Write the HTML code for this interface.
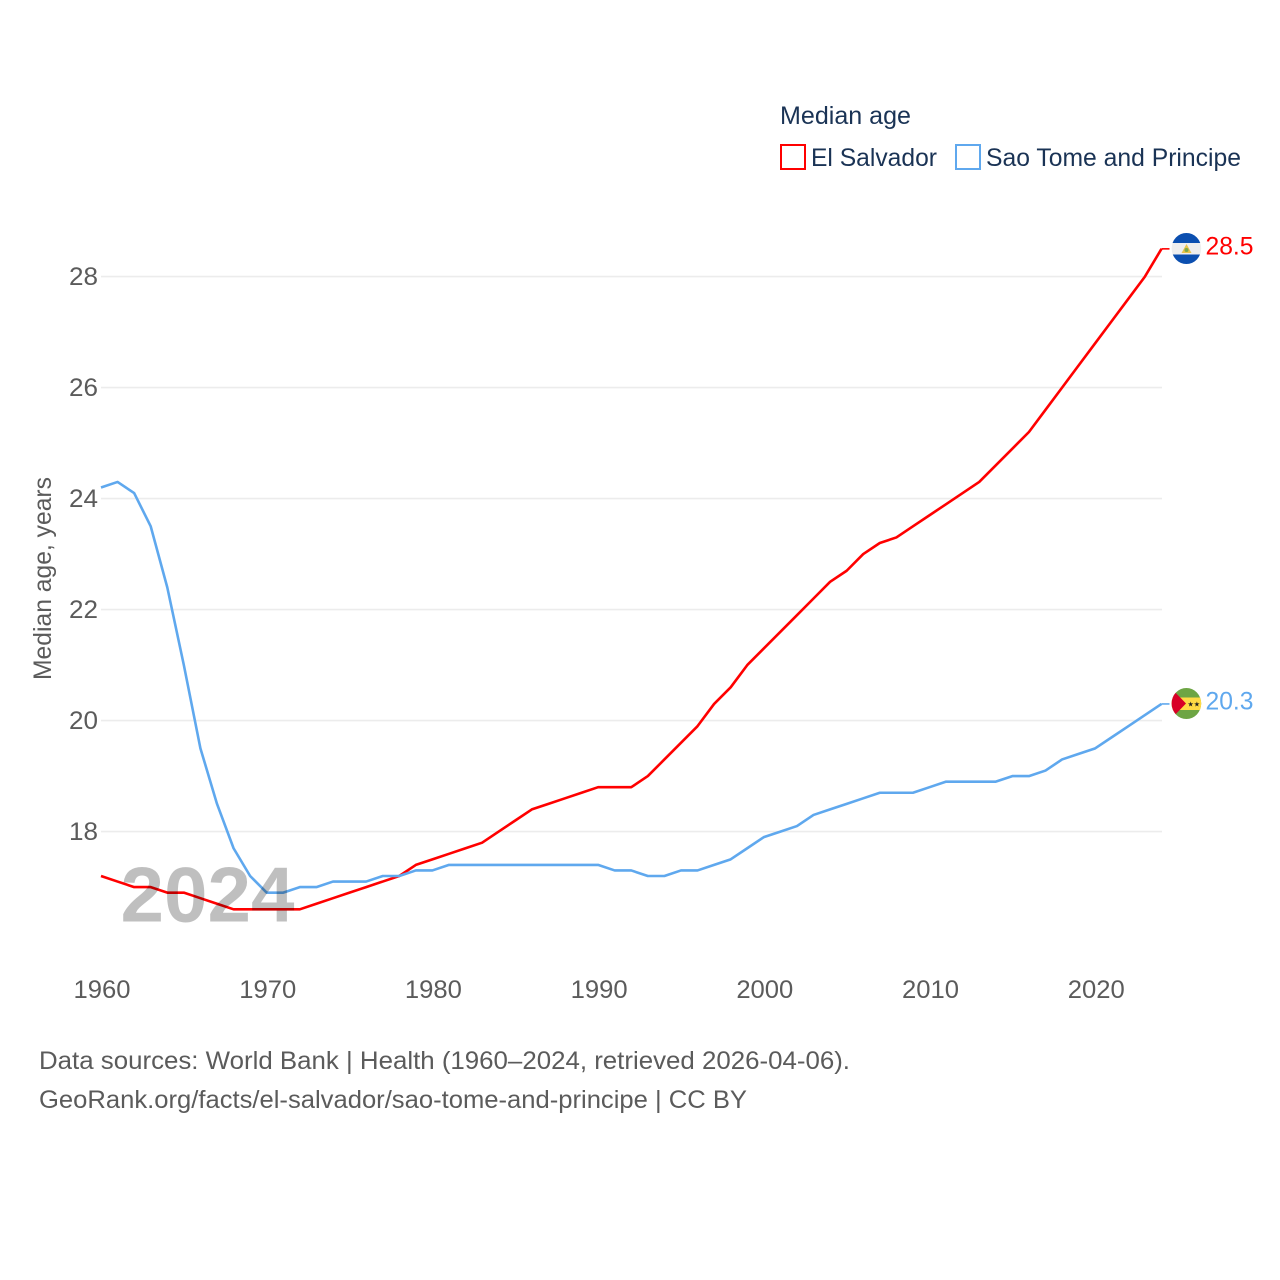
<!DOCTYPE html>
<html lang="en">
<head>
<meta charset="utf-8">
<title>Median age: El Salvador vs Sao Tome and Principe</title>
<style>
html,body{margin:0;padding:0;background:#fff;width:1280px;height:1280px;overflow:hidden}
svg{display:block}
text{font-family:"Liberation Sans",sans-serif}
</style>
</head>
<body>
<svg id="chart" width="1280" height="1280" viewBox="0 0 1280 1280" xmlns="http://www.w3.org/2000/svg">
  <defs>
    <clipPath id="clip-sv"><ellipse cx="1186.4" cy="248.5" rx="14.8" ry="15.5"/></clipPath>
    <clipPath id="clip-st"><ellipse cx="1186.4" cy="703.5" rx="14.8" ry="15.5"/></clipPath>
  </defs>
  <rect width="1280" height="1280" fill="#fff"/>

  <g id="legend">
    <text x="780" y="124" font-size="25" fill="#1a3355" textLength="131" lengthAdjust="spacingAndGlyphs">Median age</text>
    <g>
      <rect x="781" y="145" width="24" height="24" fill="#fff" stroke="#ff0000" stroke-width="2"/>
      <text x="811" y="166" font-size="25" fill="#1a3355" textLength="126" lengthAdjust="spacingAndGlyphs">El Salvador</text>
    </g>
    <g>
      <rect x="956" y="145" width="24" height="24" fill="#fff" stroke="#5fa8ee" stroke-width="2"/>
      <text x="986" y="166" font-size="25" fill="#1a3355" textLength="255" lengthAdjust="spacingAndGlyphs">Sao Tome and Principe</text>
    </g>
  </g>

  <g id="grid"></g>
  <g id="y-ticks"></g>
  <g id="x-ticks"></g>
  <text transform="translate(51,680) rotate(-90)" font-size="25" fill="#5b5b5b" textLength="203" lengthAdjust="spacingAndGlyphs">Median age, years</text>

  <g id="series"></g>

  <text x="120.5" y="921.5" font-size="78" font-weight="700" fill="#000" fill-opacity="0.25" textLength="174" lengthAdjust="spacingAndGlyphs">2024</text>

  <g clip-path="url(#clip-sv)">
    <rect x="1171" y="233" width="31" height="31" fill="#eeeeee"/>
    <rect x="1171" y="233" width="31" height="10" fill="#0b4fb0"/>
    <rect x="1171" y="254.5" width="31" height="10" fill="#0b4fb0"/>
    <path d="M1186.5 244 l5 9 h-10 z" fill="#e8c44a"/>
    <circle cx="1186.5" cy="250" r="2" fill="#7da84a"/>
  </g>
  <g clip-path="url(#clip-st)">
    <rect x="1171" y="688" width="31" height="31" fill="#6da544"/>
    <rect x="1171" y="697.5" width="31" height="12.5" fill="#ffda44"/>
    <path d="M1171 688 L1186 703.5 L1171 719 Z" fill="#d80027"/>
    <text x="1187.5" y="706.5" font-size="7" fill="#222">★★</text>
  </g>

  <g id="end-labels"></g>

  <text x="39" y="1069" font-size="25" fill="#5b5b5b" textLength="811" lengthAdjust="spacingAndGlyphs">Data sources: World Bank | Health (1960–2024, retrieved 2026-04-06).</text>
  <text x="39" y="1108" font-size="25" fill="#5b5b5b" textLength="708" lengthAdjust="spacingAndGlyphs">GeoRank.org/facts/el-salvador/sao-tome-and-principe | CC BY</text>
</svg>
<script>
const years = [1960,1961,1962,1963,1964,1965,1966,1967,1968,1969,1970,1971,1972,1973,1974,1975,1976,1977,1978,1979,1980,1981,1982,1983,1984,1985,1986,1987,1988,1989,1990,1991,1992,1993,1994,1995,1996,1997,1998,1999,2000,2001,2002,2003,2004,2005,2006,2007,2008,2009,2010,2011,2012,2013,2014,2015,2016,2017,2018,2019,2020,2021,2022,2023,2024];
const elSalvador = [17.2,17.1,17.0,17.0,16.9,16.9,16.8,16.7,16.6,16.6,16.6,16.6,16.6,16.7,16.8,16.9,17.0,17.1,17.2,17.4,17.5,17.6,17.7,17.8,18.0,18.2,18.4,18.5,18.6,18.7,18.8,18.8,18.8,19.0,19.3,19.6,19.9,20.3,20.6,21.0,21.3,21.6,21.9,22.2,22.5,22.7,23.0,23.2,23.3,23.5,23.7,23.9,24.1,24.3,24.6,24.9,25.2,25.6,26.0,26.4,26.8,27.2,27.6,28.0,28.5];
const saoTome = [24.2,24.3,24.1,23.5,22.4,21.0,19.5,18.5,17.7,17.2,16.9,16.9,17.0,17.0,17.1,17.1,17.1,17.2,17.2,17.3,17.3,17.4,17.4,17.4,17.4,17.4,17.4,17.4,17.4,17.4,17.4,17.3,17.3,17.2,17.2,17.3,17.3,17.4,17.5,17.7,17.9,18.0,18.1,18.3,18.4,18.5,18.6,18.7,18.7,18.7,18.8,18.9,18.9,18.9,18.9,19.0,19.0,19.1,19.3,19.4,19.5,19.7,19.9,20.1,20.3];
const yTickLabels = [18,20,22,24,26,28];
const xTickLabels = [1960,1970,1980,1990,2000,2010,2020];

const NS = 'http://www.w3.org/2000/svg';
const xScale = function (year) { return 101 + (year - 1960) * (1161.5 - 101) / 64; };
const yScale = function (value) { return 831.6 - (value - 18) * 55.5; };
function svgEl(tag, attrs, parent) {
  const el = document.createElementNS(NS, tag);
  Object.keys(attrs).forEach(function (k) { el.setAttribute(k, attrs[k]); });
  parent.appendChild(el);
  return el;
}

const gridGroup = document.getElementById('grid');
const yTickGroup = document.getElementById('y-ticks');
yTickLabels.forEach(function (tick) {
  const line = svgEl('line', {x1: 101, x2: 1162, y1: yScale(tick), y2: yScale(tick), stroke: '#ececec', 'stroke-width': 1.6}, gridGroup);
  
  
  const label = svgEl('text', {x: 98, y: yScale(tick) + 8.4, 'text-anchor': 'end', 'font-size': 25, fill: '#5b5b5b', textLength: 29, lengthAdjust: 'spacingAndGlyphs'}, yTickGroup);
  
  
  label.textContent = tick;
});

const xTickGroup = document.getElementById('x-ticks');
xTickLabels.forEach(function (tick) {
  const label = svgEl('text', {x: xScale(tick) + 1, y: 998, 'text-anchor': 'middle', 'font-size': 25, fill: '#5b5b5b', textLength: 57, lengthAdjust: 'spacingAndGlyphs'}, xTickGroup);
  
  
  label.textContent = tick;
});

const seriesGroup = document.getElementById('series');
const labelGroup = document.getElementById('end-labels');
function drawSeries(values, color, name) {
  const d = values.map(function (v, i) {
    return (i ? 'L' : 'M') + xScale(years[i]).toFixed(2) + ' ' + yScale(v).toFixed(2);
  }).join(' ');
  const path = svgEl('path', {d: d, fill: 'none', stroke: color, 'stroke-width': 2.6, 'stroke-linejoin': 'round'}, seriesGroup);
  
  
  const last = values[values.length - 1];
  const lastX = xScale(years[years.length - 1]);
  const connector = svgEl('line', {x1: lastX, x2: lastX + 8, y1: yScale(last), y2: yScale(last), stroke: color, 'stroke-width': 1.6}, seriesGroup);
  
  
  const label = svgEl('text', {x: 1205.5, y: yScale(last) + 5.4, 'font-size': 25, fill: color, textLength: 48, lengthAdjust: 'spacingAndGlyphs'}, labelGroup);
  
  
  label.textContent = last.toFixed(1);
}
drawSeries(elSalvador, '#ff0000', 'el-salvador');
drawSeries(saoTome, '#5fa8ee', 'sao-tome');
</script>
</body>
</html>
